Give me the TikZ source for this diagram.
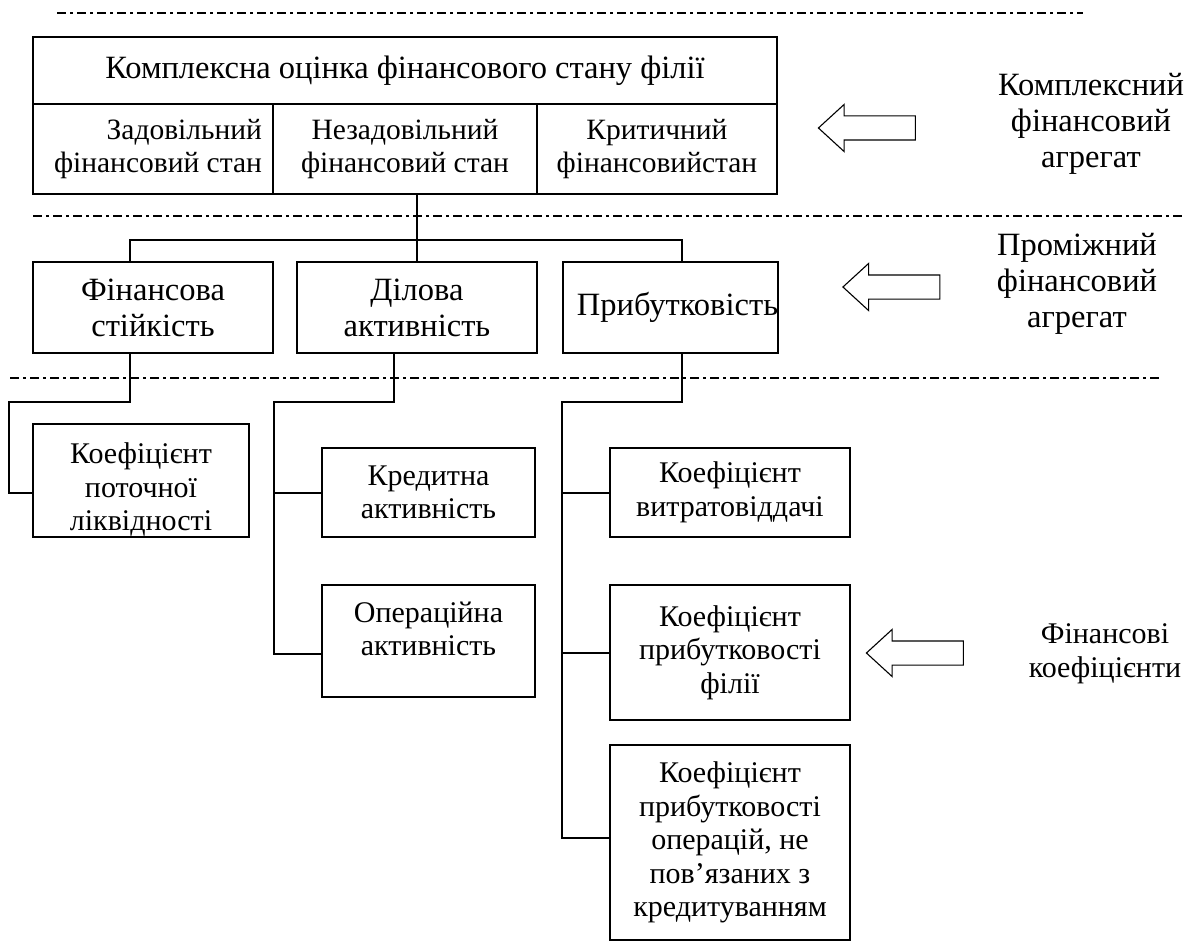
\documentclass[tikz,border=0pt]{standalone}
\usepackage{fontspec}
\setmainfont{Liberation Serif}
\usetikzlibrary{positioning, shapes.arrows}

\newcommand{\bigfont}{\fontsize{32.5}{36}\selectfont}
\newcommand{\boxfont}{\fontsize{30}{33.5}\selectfont}
\newcommand{\subfont}{\fontsize{29.5}{33.5}\selectfont}

\tikzset{
  box/.style={draw, line width=1.3pt, inner sep=0pt, align=center, font=\boxfont},
  lbl/.style={inner sep=0pt, align=center, font=\boxfont},
  wire/.style={line width=1.1pt},
  level/.style={line width=1.1pt, dash pattern=on 9pt off 4pt on 3pt off 4pt},
  fatarrow/.style={draw, line width=1.1pt, single arrow, shape border rotate=180,
    single arrow tip angle=85, inner sep=11.5pt, single arrow head extend=11.5pt,
    minimum height=97pt}
}

\begin{document}
\begin{tikzpicture}[x=1pt, y=-1pt]
    \useasboundingbox (0,0) rectangle (1189,944);

    % level separators
    \draw[level] (57,13) -- (1083,13);
    \draw[level] (33,216) -- (1185,216);
    \draw[level] (10,378) -- (1160,378);

    % complex aggregate
    \node[box, font=\bigfont, minimum width=744, minimum height=67] (title) at (405,70.5) {Комплексна оцінка фінансового стану філії};
    \node[box, font=\subfont, minimum width=240, minimum height=90, align=right] (s1) at (153,149) {Задовільний\\\hspace*{10pt}фінансовий стан};
    \node[box, font=\subfont, minimum width=264, minimum height=90] (s2) at (405,149) {Незадовільний\\фінансовий стан};
    \node[box, font=\subfont, minimum width=240, minimum height=90] (s3) at (657,149) {Критичний\\фінансовийстан};

    % intermediate aggregate
    \node[box, font=\bigfont, minimum width=240, minimum height=91] (fin) at (153,307.5) {Фінансова\\стійкість};
    \node[box, font=\bigfont, minimum width=240, minimum height=91] (dil) at (417,307.5) {Ділова\\активність};
    \node[box, font=\bigfont, minimum width=215, minimum height=91] (prib) at (670.5,307.5) {\hspace*{14pt}Прибутковість};

    % coefficients
    \node[box, minimum width=216, minimum height=113,
      label={[lbl, yshift=-9pt]center:{Коефіцієнт\\поточної\\ліквідності}}] (kpl) at (141,480.5) {};
    \node[box, minimum width=213, minimum height=89] (kred) at (428.5,492.5) {Кредитна\\активність};
    \node[box, minimum width=213, minimum height=112,
      label={[lbl, yshift=12pt]center:{Операційна\\активність}}] (oper) at (428.5,641) {};
    \node[box, minimum width=240, minimum height=89] (vyt) at (730,492.5) {Коефіцієнт\\витратовіддачі};
    \node[box, minimum width=240, minimum height=135] (kpf) at (730,652.5) {Коефіцієнт\\прибутковості\\філії};
    \node[box, minimum width=240, minimum height=195] (kpo) at (730,842.5) {Коефіцієнт\\прибутковості\\операцій, не\\пов’язаних з\\кредитуванням};

    % top links
    \coordinate (bl) at (130,240);
    \coordinate (br) at (682,240);
    \draw[wire] (s2.south -| dil.north) -- (dil.north);
    \draw[wire] (bl |- fin.north) -- (bl) -- (br) -- (br |- prib.north);

    % lower links
    \coordinate (fd) at (130,402);
    \coordinate (fk) at (9,493);
    \draw[wire] (fd |- fin.south) -- (fd) -| (fk) -- (fk -| kpl.west);

    \coordinate (dd) at (394,402);
    \coordinate (dk) at (274,493);
    \coordinate (dop) at (274,654);
    \draw[wire] (dd |- dil.south) -- (dd) -| (dop) -- (dop -| oper.west);
    \draw[wire] (dk) -- (dk -| kred.west);

    \coordinate (pd) at (682,402);
    \coordinate (pv) at (562,493);
    \coordinate (pf) at (562,653);
    \coordinate (po) at (562,838);
    \draw[wire] (pd |- prib.south) -- (pd) -| (po) -- (po -| kpo.west);
    \draw[wire] (pv) -- (pv -| vyt.west);
    \draw[wire] (pf) -- (pf -| kpf.west);

    % level labels
    \node[fatarrow] (a1) at (873.5,128) {};
    \node[fatarrow] (a2) at (898,287) {};
    \node[fatarrow] (a3) at (921.5,653) {};
    \node[lbl, font=\bigfont] (lab1) at (1091,124) {Комплексний\\фінансовий\\агрегат};
    \node[lbl, font=\bigfont] (lab2) at (1077,284) {Проміжний\\фінансовий\\агрегат};
    \node[lbl] (lab3) at (1105,654) {Фінансові\\коефіцієнти};
\end{tikzpicture}
\end{document}
